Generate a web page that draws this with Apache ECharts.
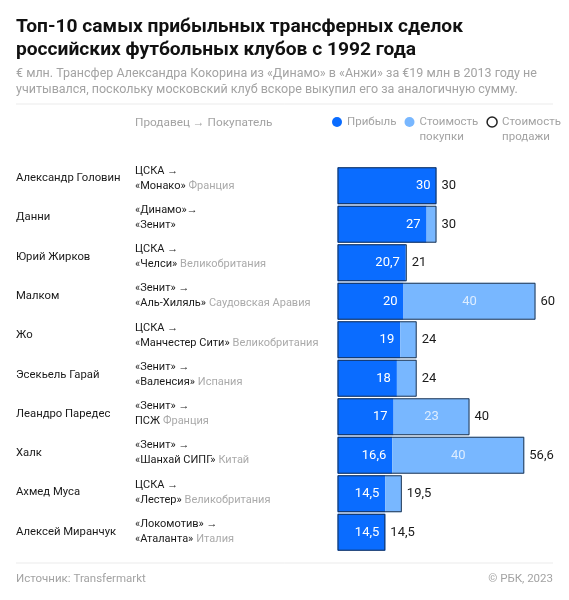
<!DOCTYPE html>
<html><head><meta charset="utf-8">
<script src="https://cdn.jsdelivr.net/npm/echarts@6/dist/echarts.min.js"></script>
<style>html,body{margin:0;padding:0;background:#fff}#c{width:569px;height:600px}</style>
</head><body><div id="c"></div>
<script>
const names = ['Александр Головин','Данни','Юрий Жирков','Малком','Жо','Эсекьель Гарай','Леандро Паредес','Халк','Ахмед Муса','Алексей Миранчук'];
const sellers = ['ЦСКА →','«Динамо»→','ЦСКА →','«Зенит» →','ЦСКА →','«Зенит» →','«Зенит» →','«Зенит» →','ЦСКА →','«Локомотив» →'];
const buyers = ['«Монако»','«Зенит»','«Челси»','«Аль-Хиляль»','«Манчестер Сити»','«Валенсия»','ПСЖ','«Шанхай СИПГ»','«Лестер»','«Аталанта»'];
const countries = ['Франция','','Великобритания','Саудовская Аравия','Великобритания','Испания','Франция','Китай','Великобритания','Италия'];
const profit = [30, 27, 20.7, 20, 19, 18, 17, 16.6, 14.5, 14.5];
const purchase = [0, 3, 0.3, 40, 5, 6, 23, 40, 5, 0];
const sale = [30, 30, 21, 60, 24, 24, 40, 56.6, 19.5, 14.5];
const seriesNames = ['Прибыль', 'Стоимость покупки', 'Стоимость продажи'];

const FONT = 'Roboto';
const fmt = v => String(v).replace('.', ',');
const DARK = '#0a6cff', LIGHT = '#78b7ff', GREY = '#a3a3a3', INK = '#1a1a1a';

const chart = echarts.init(document.getElementById('c'), null, {renderer: 'canvas'});
chart.setOption({
  animation: false,
  textStyle: {fontFamily: FONT},
  title: [
    {left: 16, top: 16, padding: 0, text: 'Топ-10 самых прибыльных трансферных сделок\nроссийских футбольных клубов с 1992 года',
     textStyle: {fontFamily: FONT, fontSize: 19.2, fontWeight: 'bold', lineHeight: 23, color: '#111'}},
    {left: 16, top: 66, padding: 0, text: '€ млн. Трансфер Александра Кокорина из «Динамо» в «Анжи» за €19 млн в 2013 году не\nучитывался, поскольку московский клуб вскоре выкупил его за аналогичную сумму.',
     textStyle: {fontFamily: FONT, fontSize: 12.5, fontWeight: 'normal', lineHeight: 16, color: GREY}},
    {left: 135, top: 117, padding: 0, text: 'Продавец → Покупатель',
     textStyle: {fontFamily: FONT, fontSize: 11.8, fontWeight: 'normal', color: GREY}},
    {left: 16, top: 573, padding: 0, text: 'Источник: Transfermarkt',
     textStyle: {fontFamily: FONT, fontSize: 11.5, fontWeight: 'normal', color: GREY}},
    {right: 16, top: 573, padding: 0, text: '© РБК, 2023',
     textStyle: {fontFamily: FONT, fontSize: 11.5, fontWeight: 'normal', color: GREY}}
  ],
  graphic: [
    {type: 'line', shape: {x1: 16, y1: 104, x2: 553, y2: 104}, style: {stroke: '#ebebeb', lineWidth: 1}},
    {type: 'line', shape: {x1: 16, y1: 563, x2: 553, y2: 563}, style: {stroke: '#ebebeb', lineWidth: 1}}
  ],
  legend: {
    left: 332, top: 99.5, width: 260, padding: 0, itemWidth: 10, itemHeight: 10, itemGap: 8, icon: 'circle', selectedMode: false,
    textStyle: {fontFamily: FONT, fontSize: 11.5, color: GREY, lineHeight: 15,
      rich: {e: {fontSize: 11.5, lineHeight: 15, color: GREY}, t: {fontSize: 11.5, lineHeight: 15, color: GREY}}},
    formatter: n => {
      const parts = n.split(' ');
      return parts.length > 1 ? '{e| }\n{t|' + parts[0] + '}\n{t|' + parts[1] + '}' : '{t|' + n + '}';
    },
    data: [
      {name: seriesNames[0], itemStyle: {color: DARK}},
      {name: seriesNames[1], itemStyle: {color: LIGHT}},
      {name: seriesNames[2], itemStyle: {color: '#fff', borderColor: '#222', borderWidth: 1.5}}
    ]
  },
  grid: [
    {left: 337.5, top: 166.5, width: 198, height: 385},
    {left: 337.5, top: 158.7, width: 198, height: 392.7}
  ],
  xAxis: [
    {gridIndex: 0, type: 'value', min: 0, max: 60, show: false},
    {gridIndex: 1, type: 'value', min: 0, max: 60, show: false}
  ],
  yAxis: [
    {gridIndex: 0, type: 'category', inverse: true, data: names, show: false},
    {gridIndex: 1, type: 'category', inverse: true, data: names, position: 'left',
     axisLine: {show: false}, axisTick: {show: false}, splitLine: {show: false},
     axisLabel: {align: 'left', margin: 321.5, fontFamily: FONT, fontSize: 11.3, color: INK}},
    {gridIndex: 1, type: 'category', inverse: true, data: names, position: 'left', offset: 0,
     axisLine: {show: false}, axisTick: {show: false}, splitLine: {show: false},
     axisLabel: {align: 'left', margin: 202.5, lineHeight: 15,
       formatter: (v, i) => '{a|' + sellers[i] + '}\n{a|' + buyers[i] + '}' + (countries[i] ? ' {c|' + countries[i] + '}' : ''),
       rich: {
         a: {fontFamily: FONT, fontSize: 11, color: INK, lineHeight: 15},
         c: {fontFamily: FONT, fontSize: 11, color: '#aaaaaa', lineHeight: 15}
       }}}
  ],
  series: [
    {name: seriesNames[0], type: 'bar', stack: 'deal', xAxisIndex: 0, yAxisIndex: 0, data: profit,
     barCategoryGap: '4%', itemStyle: {color: DARK},
     label: {show: true, position: 'insideRight', distance: 6, color: '#fff', fontFamily: FONT, fontSize: 13,
       formatter: p => fmt(p.value)}},
    {name: seriesNames[1], type: 'bar', stack: 'deal', xAxisIndex: 0, yAxisIndex: 0, data: purchase,
     barCategoryGap: '4%', itemStyle: {color: LIGHT},
     label: {show: true, position: 'inside', color: 'rgba(255,255,255,0.75)', fontFamily: FONT, fontSize: 13,
       formatter: p => p.value >= 10 ? fmt(p.value) : ''}},
    {name: seriesNames[2], type: 'bar', xAxisIndex: 0, yAxisIndex: 0, data: sale, z: 5,
     barGap: '-100%', barCategoryGap: '4%',
     itemStyle: {color: 'rgba(0,0,0,0)', borderColor: 'rgba(25,35,50,0.85)', borderWidth: 1},
     label: {show: true, position: 'right', distance: 5, color: INK, fontFamily: FONT, fontSize: 13,
       formatter: p => fmt(p.value)}}
  ]
});
</script></body></html>
